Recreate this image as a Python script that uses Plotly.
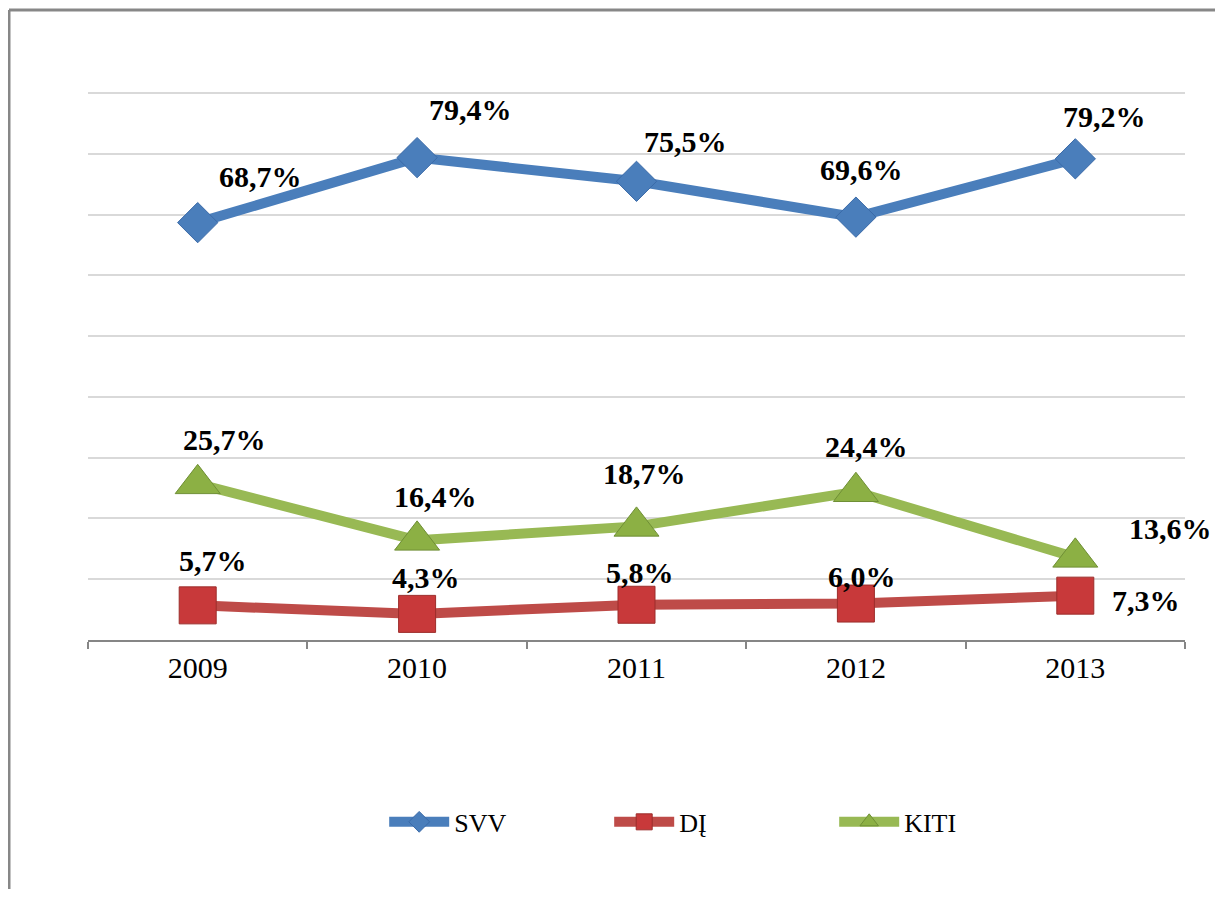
import plotly.graph_objects as go

years = ["2009", "2010", "2011", "2012", "2013"]
svv = [68.7, 79.4, 75.5, 69.6, 79.2]
di = [5.7, 4.3, 5.8, 6.0, 7.3]
kiti = [25.7, 16.4, 18.7, 24.4, 13.6]

svv_lbl = ["68,7%", "79,4%", "75,5%", "69,6%", "79,2%"]
di_lbl = ["5,7%", "4,3%", "5,8%", "6,0%", "7,3%"]
kiti_lbl = ["25,7%", "16,4%", "18,7%", "24,4%", "13,6%"]

# label pixel offsets (dx, dy)
svv_off = [(63, 46), (53, 48), (49, 40), (6, 48), (29, 42)]
di_off = [(15, 45), (9, 36), (3, 32), (6, 27), (71, -5)]
kiti_off = [(27, 44), (18, 44), (8, 53), (11, 45), (95, 29)]

BLUE = "#4a7ebb"
RED = "#be4b48"
GREEN = "#98b954"
SERIF = "Liberation Serif"

fig = go.Figure()
fig.add_trace(go.Scatter(x=years, y=svv, name="SVV", mode="lines+markers",
                         line=dict(color=BLUE, width=10),
                         marker=dict(symbol="diamond", size=31, color=BLUE,
                                     line=dict(color="#3a6aa8", width=1))))
fig.add_trace(go.Scatter(x=years, y=di, name="DĮ", mode="lines+markers",
                         line=dict(color=RED, width=10),
                         marker=dict(symbol="square", size=37, color="#c8393a",
                                     line=dict(color="#9c2d2b", width=1))))
fig.add_trace(go.Scatter(x=years, y=kiti, name="KITI", mode="lines+markers",
                         line=dict(color=GREEN, width=10),
                         marker=dict(symbol="triangle-up", size=39, color="#8cb044",
                                     line=dict(color="#6f8f35", width=1))))

for vals, lbls, offs in ((svv, svv_lbl, svv_off), (di, di_lbl, di_off), (kiti, kiti_lbl, kiti_off)):
    for i, (v, t, (dx, dy)) in enumerate(zip(vals, lbls, offs)):
        fig.add_annotation(x=i, y=v, xref="x", yref="y", text="<b>" + t + "</b>",
                           showarrow=False, xshift=dx, yshift=dy,
                           font=dict(family=SERIF, size=30, color="black"))

# page body has an 8px margin
W, H = 1207, 881
L, R, T, B = 80, 30, 84, 249
pw = W - L - R
ph = H - T - B
bx = (1 - L) / pw
by = (H - B - 2) / ph

fig.add_shape(type="line", xref="paper", yref="paper", x0=bx, x1=bx, y0=by, y1=-0.6,
              line=dict(color="#878787", width=3))
fig.add_shape(type="line", xref="paper", yref="paper", x0=bx, x1=1.1, y0=by, y1=by,
              line=dict(color="#878787", width=3))

fig.update_layout(
    width=W, height=H,
    margin=dict(l=L, r=R, t=T, b=B),
    paper_bgcolor="white", plot_bgcolor="white",
    showlegend=True,
    legend=dict(orientation="h", x=0.27, xanchor="left", y=-0.332, yanchor="middle",
                font=dict(family=SERIF, size=26, color="black"),
                entrywidth=150, itemwidth=60),
    xaxis=dict(type="category", range=[-0.5, 4.5], tickson="boundaries",
               ticks="outside", ticklen=7, tickcolor="#868686", tickwidth=2,
               showline=True, linecolor="#868686", linewidth=2,
               showgrid=False, tickfont=dict(family=SERIF, size=30, color="black")),
    yaxis=dict(range=[0, 90.2], tickvals=[10, 20, 30, 40, 50, 60, 70, 80, 90],
               showticklabels=False, showgrid=True,
               gridcolor="#d9d9d9", gridwidth=2, zeroline=False, showline=False,
               ticks=""),
)

fig.write_html("out.html")
